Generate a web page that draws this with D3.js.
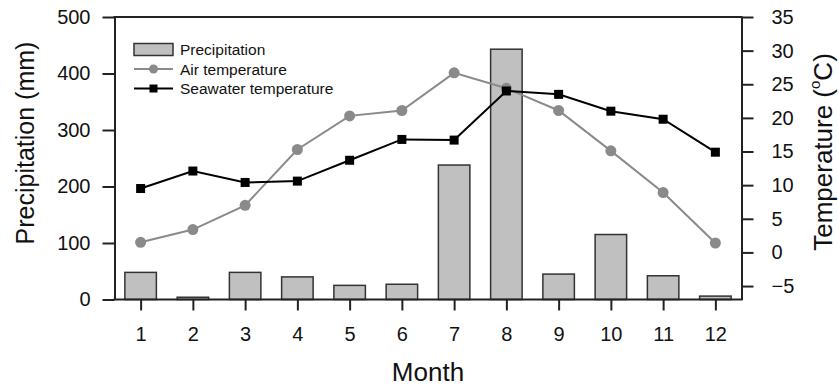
<!DOCTYPE html>
<html>
<head>
<meta charset="utf-8">
<script src="https://cdn.jsdelivr.net/npm/d3@7"></script>
<style>
  body { margin: 0; background: #fff; }
  svg { display: block; font-family: "Liberation Sans", Arial, sans-serif; }
  .axis path, .axis line { stroke: #222; stroke-width: 2px; }
  .axis text { font-size: 20px; fill: #111; }
  .title { fill: #111; }
  .legend text { font-size: 15.5px; fill: #111; }
</style>
</head>
<body>
<svg id="chart" width="838" height="389"></svg>
<script>
  // values
  const months = [1, 2, 3, 4, 5, 6, 7, 8, 9, 10, 11, 12];
  const precipitation = [48, 4, 48, 40, 25, 27, 238, 443, 45, 115, 42, 6];
  const airTemp = [1.5, 3.4, 7.0, 15.3, 20.3, 21.1, 26.7, 24.4, 21.1, 15.1, 8.9, 1.4];
  const seaTemp = [9.5, 12.1, 10.4, 10.6, 13.7, 16.8, 16.7, 24.0, 23.5, 21.0, 19.8, 14.9];
  const precipTicks = [0, 100, 200, 300, 400, 500];
  const tempTicks = [-5, 0, 5, 10, 15, 20, 25, 30, 35];
  const legendLabels = ["Precipitation", "Air temperature", "Seawater temperature"];

  const svg = d3.select("#chart");
  const plotL = 114.5, plotR = 741.5, plotT = 17, plotB = 299.5;

  const x = d3.scaleLinear().domain([0.5, 12.5]).range([plotL, plotR]);
  const yP = d3.scaleLinear().domain([0, 500]).range([plotB, plotT]);
  const yT = d3.scaleLinear().domain([-7, 35]).range([plotB, plotT]);

  const barW = 31.5;
  const airColor = "#8a8a8a";

  // bars
  svg.append("g").selectAll("rect")
    .data(months)
    .join("rect")
      .attr("x", (d) => x(d) - barW / 2)
      .attr("y", (d, i) => yP(precipitation[i]))
      .attr("width", barW)
      .attr("height", (d, i) => yP(0) - yP(precipitation[i]))
      .attr("fill", "#c0c0c0")
      .attr("stroke", "#333")
      .attr("stroke-width", 1.5);

  // air temperature
  const tempLine = d3.line().x((d, i) => x(months[i])).y((d) => yT(d));
  svg.append("path")
    .attr("d", tempLine(airTemp))
    .attr("fill", "none")
    .attr("stroke", airColor)
    .attr("stroke-width", 2);
  svg.append("g").selectAll("circle")
    .data(airTemp)
    .join("circle")
      .attr("cx", (d, i) => x(months[i]))
      .attr("cy", (d) => yT(d))
      .attr("r", 5.5)
      .attr("fill", airColor);

  // seawater temperature
  svg.append("path")
    .attr("d", tempLine(seaTemp))
    .attr("fill", "none")
    .attr("stroke", "#000")
    .attr("stroke-width", 2);
  const sq = 9;
  svg.append("g").selectAll("rect")
    .data(seaTemp)
    .join("rect")
      .attr("x", (d, i) => x(months[i]) - sq / 2)
      .attr("y", (d) => yT(d) - sq / 2)
      .attr("width", sq)
      .attr("height", sq)
      .attr("fill", "#000");

  // axes
  svg.append("g").attr("class", "axis")
    .attr("transform", `translate(${plotL},0)`)
    .call(d3.axisLeft(yP).tickValues(precipTicks).tickSize(12).tickSizeOuter(0).tickPadding(12));
  svg.append("g").attr("class", "axis")
    .attr("transform", `translate(${plotR},0)`)
    .call(d3.axisRight(yT).tickValues(tempTicks).tickSize(12).tickSizeOuter(0).tickPadding(18));
  const xAxis = svg.append("g").attr("class", "axis")
    .attr("transform", `translate(0,${plotB})`)
    .call(d3.axisBottom(x).tickValues(months).tickSize(11).tickSizeOuter(0).tickPadding(16));
  xAxis.select(".domain").attr("d", `M${plotL - 1},0H${plotR + 1}`);
  svg.append("line")
    .attr("x1", plotL - 1).attr("x2", plotR + 1)
    .attr("y1", plotT).attr("y2", plotT)
    .attr("stroke", "#222").attr("stroke-width", 2);

  // titles
  svg.append("text").attr("class", "title")
    .attr("transform", "translate(25,143) rotate(-90)")
    .attr("text-anchor", "middle")
    .attr("dominant-baseline", "central")
    .attr("font-size", 25)
    .text("Precipitation (mm)");

  const rt = svg.append("text").attr("class", "title")
    .attr("transform", "translate(823,152) rotate(-90)")
    .attr("text-anchor", "middle")
    .attr("dominant-baseline", "central")
    .attr("font-size", 26);
  rt.append("tspan").text("Temperature (");
  rt.append("tspan").attr("font-size", 15).attr("dy", -9).text("o");
  rt.append("tspan").attr("dy", 9).text("C)");

  svg.append("text").attr("class", "title")
    .attr("x", 428).attr("y", 381)
    .attr("text-anchor", "middle")
    .attr("font-size", 26)
    .text("Month");

  // legend
  const lg = svg.append("g").attr("class", "legend");
  const rows = [49.5, 69, 88.5];
  lg.append("rect")
    .attr("x", 134).attr("y", rows[0] - 6).attr("width", 39).attr("height", 12)
    .attr("fill", "#c0c0c0").attr("stroke", "#333").attr("stroke-width", 1.5);
  lg.append("line")
    .attr("x1", 134).attr("x2", 173).attr("y1", rows[1]).attr("y2", rows[1])
    .attr("stroke", airColor).attr("stroke-width", 2);
  lg.append("circle").attr("cx", 153.5).attr("cy", rows[1]).attr("r", 4.5).attr("fill", airColor);
  lg.append("line")
    .attr("x1", 134).attr("x2", 173).attr("y1", rows[2]).attr("y2", rows[2])
    .attr("stroke", "#000").attr("stroke-width", 2);
  lg.append("rect").attr("x", 149.5).attr("y", rows[2] - 4).attr("width", 8).attr("height", 8).attr("fill", "#000");
  lg.selectAll("text")
    .data(legendLabels)
    .join("text")
      .attr("x", 180)
      .attr("y", (d, i) => rows[i])
      .attr("dominant-baseline", "central")
      .text((d) => d);
</script>
</body>
</html>
